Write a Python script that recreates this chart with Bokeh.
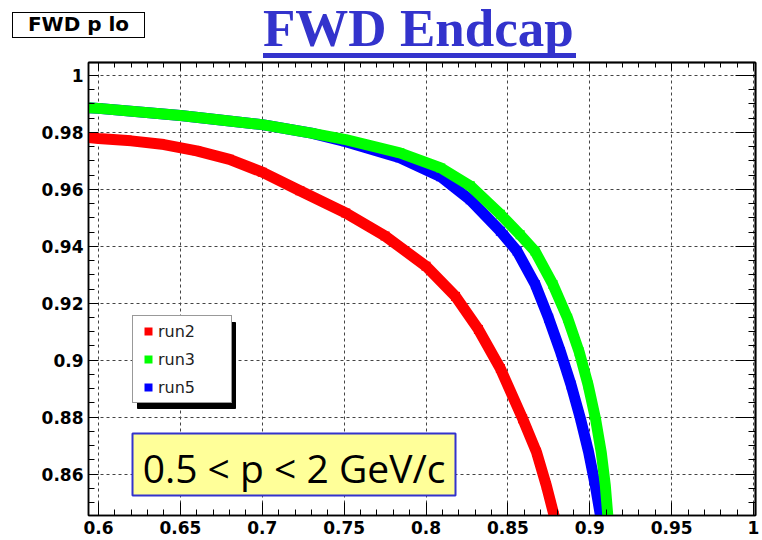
import numpy as np
from bokeh.plotting import figure
from bokeh.layouts import column
from bokeh.models import (Range1d, FixedTicker, LinearAxis, Legend, LegendItem, Label,
                          BoxAnnotation, Grid, Div)
from bokeh.embed import file_html
from bokeh.resources import INLINE

# ---- data ----
run2_x = [0.590, 0.600, 0.620, 0.640, 0.660, 0.680, 0.700, 0.723, 0.751, 0.775, 0.800, 0.818,
          0.832, 0.8454, 0.859, 0.8675, 0.8735, 0.8782, 0.8806]
run2_y = [0.9784, 0.9778, 0.9770, 0.9757, 0.9735, 0.9705, 0.9660, 0.9595, 0.9517, 0.9436, 0.9330, 0.9224,
          0.9108, 0.8971, 0.8795, 0.8677, 0.8560, 0.8455, 0.8400]

run3_x = [0.590, 0.600, 0.650, 0.700, 0.730, 0.751, 0.784, 0.809, 0.827, 0.8454, 0.8575, 0.8665,
          0.8775, 0.8865, 0.8935, 0.8990, 0.9035, 0.9070, 0.9095, 0.9110, 0.9117]
run3_y = [0.9888, 0.9884, 0.9859, 0.9827, 0.9797, 0.9774, 0.9728, 0.9675, 0.9612, 0.9512, 0.9440, 0.9383,
          0.9266, 0.9147, 0.9030, 0.8913, 0.8795, 0.8677, 0.8560, 0.8455, 0.8400]

run5_x = [0.590, 0.600, 0.650, 0.700, 0.730, 0.751, 0.784, 0.809, 0.827, 0.8454, 0.8556, 0.8668,
          0.8749, 0.8821, 0.8886, 0.8943, 0.8993, 0.9034, 0.9065, 0.9080]
run5_y = [0.9888, 0.9884, 0.9859, 0.9827, 0.9797, 0.9767, 0.9711, 0.9644, 0.9563, 0.9453, 0.9383, 0.9265,
          0.9147, 0.9030, 0.8913, 0.8795, 0.8677, 0.8560, 0.8455, 0.8400]

series_names = ["run2", "run3", "run5"]
series_colors = ["#ff0000", "#00ff00", "#0000ff"]

x_ticks = [0.6, 0.65, 0.7, 0.75, 0.8, 0.85, 0.9, 0.95, 1.0]
x_tick_labels = ["0.6", "0.65", "0.7", "0.75", "0.8", "0.85", "0.9", "0.95", "1"]
y_ticks = [0.86, 0.88, 0.9, 0.92, 0.94, 0.96, 0.98, 1.0]
y_tick_labels = ["0.86", "0.88", "0.9", "0.92", "0.94", "0.96", "0.98", "1"]

title_text = "FWD Endcap"
corner_text = "FWD p lo"
range_text = "0.5 &lt; p &lt; 2 GeV/c"
range_text = "0.5 < p < 2 GeV/c"

W = 762
HEAD_H = 61

# ---- header strip (corner box + underlined title) ----
head_html = (
    '<div style="position:relative;width:762px;height:61px;background:white;">'
    '<div style="position:absolute;left:12px;top:12px;width:133px;height:26px;box-sizing:border-box;'
    'border:1.5px solid black;background:white;"></div>'
    '<div style="position:absolute;left:12px;top:14px;width:133px;text-align:center;'
    'font-family:\'DejaVu Sans\';font-weight:bold;font-size:20px;line-height:20px;color:black;'
    'white-space:nowrap;">' + corner_text + '</div>'
    '<div style="position:absolute;left:263px;top:2px;'
    'font-family:\'Liberation Serif\';font-weight:bold;font-size:53px;line-height:53px;color:#3333cc;'
    'white-space:nowrap;">' + title_text + '</div>'
    '<div style="position:absolute;left:263px;top:53px;width:313px;height:5px;background:#3333cc;"></div>'
    '</div>'
)
head = Div(text=head_html, width=W, height=HEAD_H, margin=(0, 0, 0, 0))

# ---- main figure ----
p = figure(width=W, height=540 - HEAD_H, output_backend="svg", toolbar_location=None,
           x_range=Range1d(0.5939, 1.0012), y_range=Range1d(0.8455, 1.0045),
           min_border_left=88, min_border_right=7, min_border_top=1, min_border_bottom=25,
           x_axis_type=None, y_axis_type=None)
p.background_fill_color = "white"
p.border_fill_color = "white"
p.outline_line_color = "black"
p.outline_line_width = 1.5

x_minor = [round(v, 3) for v in np.arange(0.59, 1.0005, 0.01) if all(abs(v - t) > 1e-6 for t in x_ticks)]
y_minor = [round(v, 4) for v in np.arange(0.845, 1.0045, 0.005) if all(abs(v - t) > 1e-6 for t in y_ticks)]

def overrides(ticks, labels):
    d = {}
    for t, l in zip(ticks, labels):
        d[t] = l
        d[str(t)] = l
    return d

def style_ticks(ax, tick_in, minor_in):
    ax.axis_line_color = "black"
    ax.axis_line_width = 1.5
    ax.major_tick_line_color = "black"
    ax.minor_tick_line_color = "black"
    ax.major_tick_in = tick_in
    ax.major_tick_out = 0
    ax.minor_tick_in = minor_in
    ax.minor_tick_out = 0

def style_labels(ax, standoff):
    ax.major_label_standoff = standoff
    ax.major_label_text_font = "DejaVu Sans"
    ax.major_label_text_font_style = "bold"
    ax.major_label_text_font_size = "17px"
    ax.major_label_text_color = "black"

xb = LinearAxis(ticker=FixedTicker(ticks=x_ticks, minor_ticks=x_minor),
                major_label_overrides=overrides(x_ticks, x_tick_labels))
style_ticks(xb, 13, 6)
style_labels(xb, 5)
p.add_layout(xb, "below")

yl = LinearAxis(ticker=FixedTicker(ticks=y_ticks, minor_ticks=y_minor),
                major_label_overrides=overrides(y_ticks, y_tick_labels))
style_ticks(yl, 10, 6)
style_labels(yl, 5)
p.add_layout(yl, "left")

# mirrored tick marks on top and right (label-free: ticks given as minor ticks only)
for side, minor_pos, major_pos, maj_len, min_len in [("above", x_minor, x_ticks, 8, 5),
                                                       ("right", y_minor, y_ticks, 20, 7)]:
    for pos, length in [(minor_pos, min_len), (major_pos, maj_len)]:
        ax = LinearAxis(ticker=FixedTicker(ticks=[], minor_ticks=pos))
        style_ticks(ax, 0, length)
        ax.major_label_standoff = 0
        p.add_layout(ax, side)

gx = Grid(dimension=0, ticker=FixedTicker(ticks=x_ticks), grid_line_color="#444444",
          grid_line_dash="3 3", grid_line_width=1)
gy = Grid(dimension=1, ticker=FixedTicker(ticks=y_ticks), grid_line_color="#444444",
          grid_line_dash="3 3", grid_line_width=1)
p.add_layout(gx)
p.add_layout(gy)

# ---- curves: red, blue, green (green on top) ----
data = {"run2": (run2_x, run2_y), "run3": (run3_x, run3_y), "run5": (run5_x, run5_y)}
colors = dict(zip(series_names, series_colors))
markers = {}
for name in ["run2", "run5", "run3"]:
    xs, ys = data[name]
    p.line(xs, ys, line_color=colors[name], line_width=11, line_join="round")
    markers[name] = p.scatter(xs, ys, marker="square", size=9, fill_color=colors[name],
                              line_color=colors[name], line_width=0)

# ---- in-frame decorations (screen units: x from frame left, y up from frame bottom) ----
FL, FB = 88, 515   # frame left / bottom in page pixels
def sx(px):
    return px - FL
def sy(py):
    return FB - py

# legend shadow
p.add_layout(BoxAnnotation(left=sx(137), right=sx(235), top=sy(322), bottom=sy(408),
                           left_units="screen", right_units="screen", top_units="screen", bottom_units="screen",
                           fill_color="black", fill_alpha=1, line_color="black", line_alpha=1))

legend = Legend(items=[LegendItem(label=n, renderers=[markers[n]]) for n in series_names],
                location=(sx(132), sy(403)), margin=0, padding=5, spacing=8,
                glyph_width=20, glyph_height=20, label_height=20, label_width=68, label_standoff=0,
                label_text_font="DejaVu Sans", label_text_font_size="16px", label_text_color="#222222",
                border_line_color="#333333", border_line_width=1.2,
                background_fill_color="white", background_fill_alpha=1)
p.add_layout(legend)

# momentum range box
p.add_layout(BoxAnnotation(left=sx(132), right=sx(455), top=sy(433), bottom=sy(495),
                           left_units="screen", right_units="screen", top_units="screen", bottom_units="screen",
                           fill_color="#ffff99", fill_alpha=1, line_color="#3333cc", line_width=2, line_alpha=1))
p.add_layout(Label(x=sx(293.5), y=sy(467), x_units="screen", y_units="screen", text=range_text,
                   text_align="center", text_baseline="middle",
                   text_font="Open Sans", text_font_size="39px", text_color="black"))

open("out.html", "w").write(file_html(column(head, p, spacing=0), INLINE))
